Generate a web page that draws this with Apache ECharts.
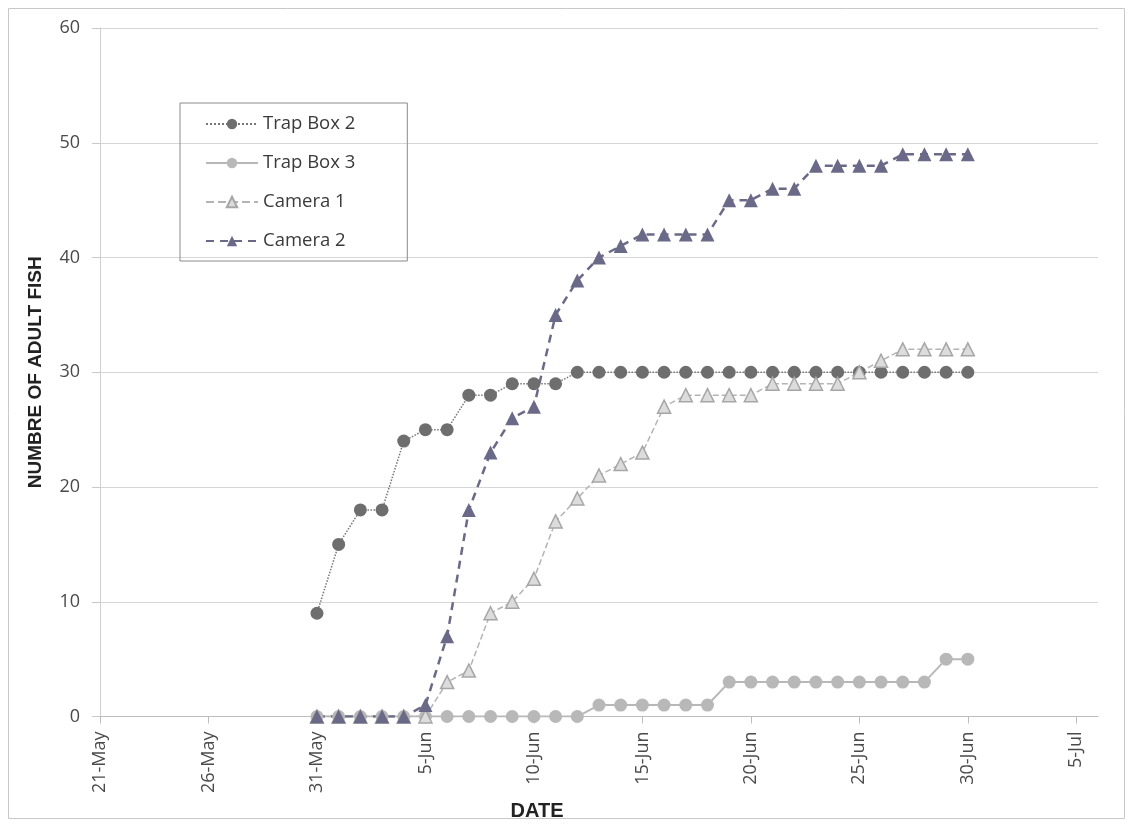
<!DOCTYPE html>
<html><head><meta charset="utf-8">
<script src="https://cdn.jsdelivr.net/npm/echarts@6/dist/echarts.min.js"></script>
<style>html,body{margin:0;padding:0;background:#fff}#c{width:1128px;height:826px}</style>
</head><body><div id="c"></div>
<script>
const dates = ['2010-05-31','2010-06-01','2010-06-02','2010-06-03','2010-06-04','2010-06-05','2010-06-06','2010-06-07','2010-06-08','2010-06-09','2010-06-10','2010-06-11','2010-06-12','2010-06-13','2010-06-14','2010-06-15','2010-06-16','2010-06-17','2010-06-18','2010-06-19','2010-06-20','2010-06-21','2010-06-22','2010-06-23','2010-06-24','2010-06-25','2010-06-26','2010-06-27','2010-06-28','2010-06-29','2010-06-30'];
const trapBox2 = [9,15,18,18,24,25,25,28,28,29,29,29,30,30,30,30,30,30,30,30,30,30,30,30,30,30,30,30,30,30,30];
const trapBox3 = [0,0,0,0,0,0,0,0,0,0,0,0,0,1,1,1,1,1,1,3,3,3,3,3,3,3,3,3,3,5,5];
const camera1  = [0,0,0,0,0,0,3,4,9,10,12,17,19,21,22,23,27,28,28,28,28,29,29,29,29,30,31,32,32,32,32];
const camera2  = [0,0,0,0,0,1,7,18,23,26,27,35,38,40,41,42,42,42,42,45,45,46,46,48,48,48,48,49,49,49,49];
const axisStart = '2010-05-21';
const axisEnd = '2010-07-06';
const yTicks = [0,10,20,30,40,50,60];
const months = ['Jan','Feb','Mar','Apr','May','Jun','Jul','Aug','Sep','Oct','Nov','Dec'];
const DAY = 86400000;
const t0 = Date.parse(axisStart);
const dayOf = s => Math.round((Date.parse(s) - t0) / DAY);
const pts = arr => arr.map((v,i) => [dayOf(dates[i]), v]);
const fmt = d => { const dt = new Date(t0 + d*DAY); return dt.getUTCDate() + '-' + months[dt.getUTCMonth()]; };
const font = '"Open Sans", Lato, sans-serif';
const bold = '"Liberation Sans Narrow", "Liberation Sans", sans-serif';
const chart = echarts.init(document.getElementById('c'));
chart.setOption({
  animation:false,
  backgroundColor:'#fff',
  graphic:[{type:'rect',shape:{x:8.5,y:8.5,width:1116,height:810},style:{fill:'none',stroke:'#c8c8c8',lineWidth:1},silent:true}],
  grid:{left:100,right:30,top:28,bottom:108,containLabel:false},
  legend:{
    orient:'vertical',left:180,top:103,
    padding:[11,52,10,25],itemGap:19,itemWidth:52,itemHeight:13,
    borderColor:'#8a8a8a',borderWidth:1,
    textStyle:{fontFamily:font,fontSize:18.5,lineHeight:20,color:'#3a3a3a'},
    data:['Trap Box 2','Trap Box 3','Camera 1','Camera 2']
  },
  xAxis:{
    type:'value',min:0,max:dayOf(axisEnd),interval:5,
    name:'DATE',nameLocation:'middle',nameGap:84,
    nameTextStyle:{fontFamily:bold,fontWeight:'bold',fontSize:20,color:'#222',padding:[0,124,0,0]},
    axisLine:{show:true,lineStyle:{color:'#bdbdbd',width:1}},
    axisTick:{show:true,length:7,lineStyle:{color:'#bdbdbd'}},
    splitLine:{show:false},
    axisLabel:{rotate:90,margin:15,showMaxLabel:false,fontFamily:font,fontSize:18,color:'#4a4a4a',formatter:v=>fmt(v)}
  },
  yAxis:{
    type:'value',min:yTicks[0],max:yTicks[yTicks.length-1],interval:10,
    name:'NUMBRE OF ADULT FISH',nameLocation:'middle',nameGap:55,
    nameTextStyle:{fontFamily:bold,fontWeight:'bold',fontSize:19,color:'#222'},
    axisLine:{show:true,lineStyle:{color:'#d0d0d0',width:1}},
    axisTick:{show:true,length:8,lineStyle:{color:'#c8c8c8'}},
    splitLine:{show:true,lineStyle:{color:'#d6d6d6',width:1}},
    axisLabel:{margin:20,fontFamily:font,fontSize:18,color:'#4a4a4a'}
  },
  series:[
    {name:'Trap Box 2',type:'line',data:pts(trapBox2),symbol:'circle',symbolSize:13,
     lineStyle:{color:'#767676',width:1.5,type:'dotted'},itemStyle:{color:'#6e6e6e'}},
    {name:'Trap Box 3',type:'line',data:pts(trapBox3),symbol:'circle',symbolSize:13,
     lineStyle:{color:'#b8b8b8',width:2,type:'solid'},itemStyle:{color:'#b8b8b8'}},
    {name:'Camera 1',type:'line',data:pts(camera1),symbol:'triangle',symbolSize:13,
     lineStyle:{color:'#b4b4b4',width:1.5,type:'dashed'},itemStyle:{color:'#dcdcdc',borderColor:'#a6a6a6',borderWidth:1.5}},
    {name:'Camera 2',type:'line',data:pts(camera2),symbol:'triangle',symbolSize:14,
     lineStyle:{color:'#6a6a88',width:2.5,type:[8,6]},itemStyle:{color:'#6a6a88'}}
  ]
});
</script></body></html>
